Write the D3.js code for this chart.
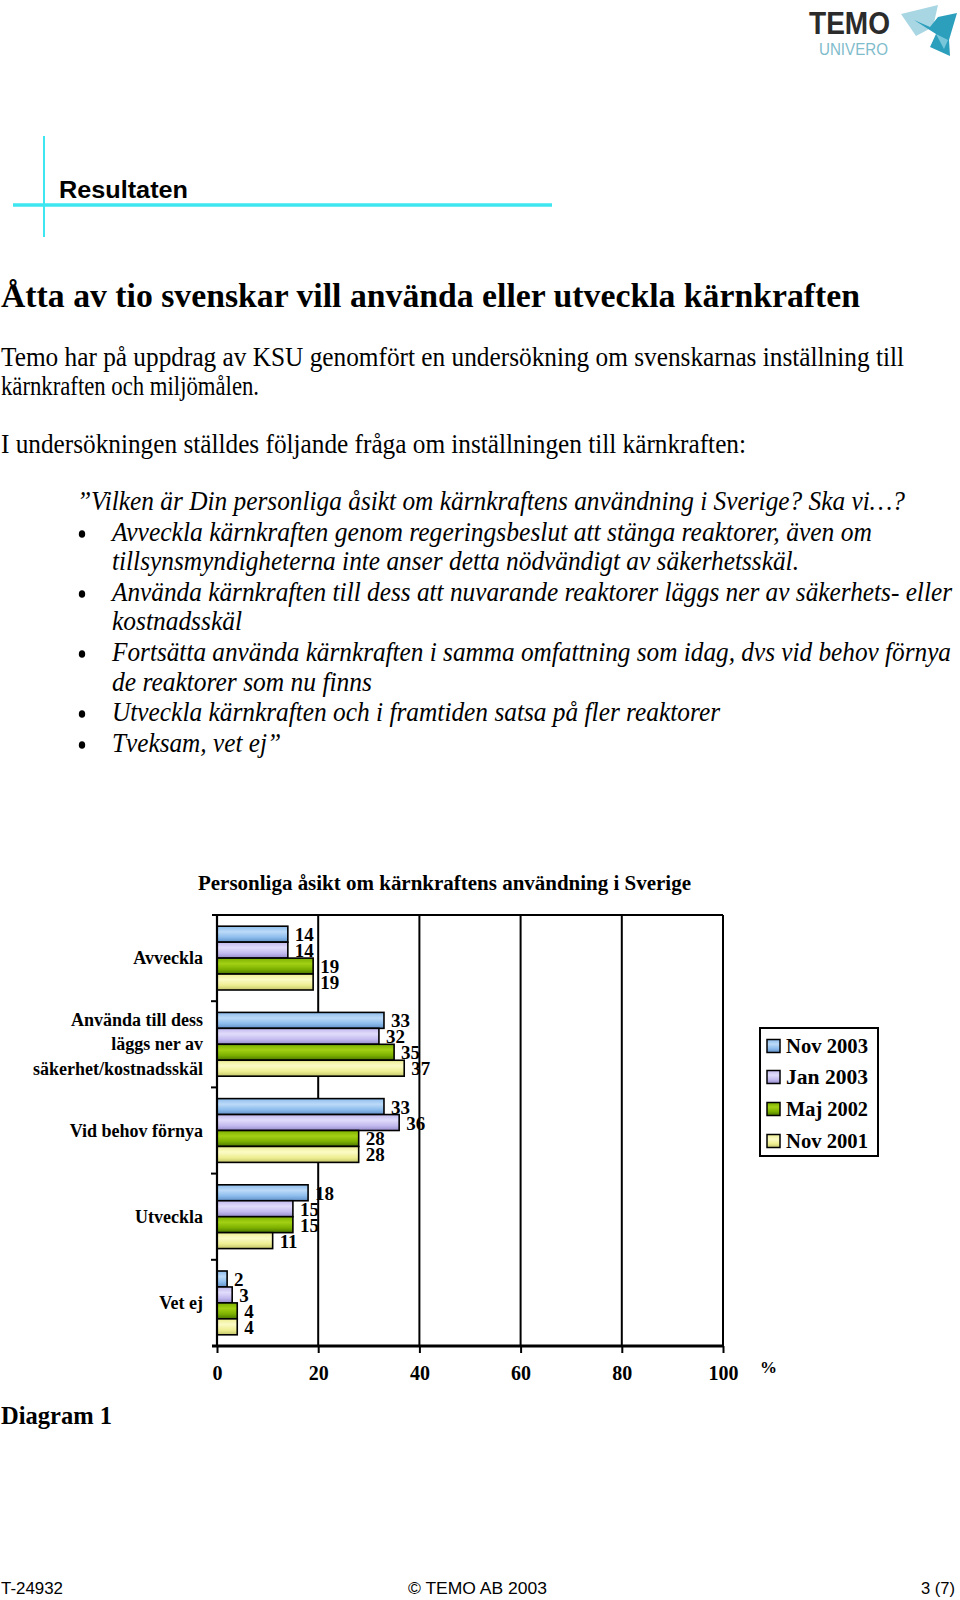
<!DOCTYPE html>
<html><head><meta charset="utf-8">
<script src="https://cdn.jsdelivr.net/npm/d3@7"></script>
<style>body{margin:0;background:#fff}svg{display:block}</style>
</head><body>
<script>
// ---------- data ----------
const categories = ["Avveckla", "Använda till dess läggs ner av säkerhet/kostnadsskäl", "Vid behov förnya", "Utveckla", "Vet ej"];
const categoryLines = [["Avveckla"], ["Använda till dess", "läggs ner av", "säkerhet/kostnadsskäl"], ["Vid behov förnya"], ["Utveckla"], ["Vet ej"]];
const seriesNames = ["Nov 2003", "Jan 2003", "Maj 2002", "Nov 2001"];
const nov2003 = [14, 33, 33, 18, 2];
const jan2003 = [14, 32, 36, 15, 3];
const maj2002 = [19, 35, 28, 15, 4];
const nov2001 = [19, 37, 28, 11, 4];
const xTicks = [0, 20, 40, 60, 80, 100];
const chartTitle = "Personliga åsikt om kärnkraftens användning i Sverige";

const seriesValues = [nov2003, jan2003, maj2002, nov2001];
const palette = [
  {base:"#8cbcec", light:"#bcdaf8", dark:"#5f8fc8"},
  {base:"#c2baee", light:"#e0dcfb", dark:"#958bcc"},
  {base:"#7cb000", light:"#a2d014", dark:"#4a7400"},
  {base:"#eeee92", light:"#fbfbc6", dark:"#c4c46a"}
];

const W = 960, H = 1600;
const svg = d3.select("body").append("svg").attr("width", W).attr("height", H);
svg.append("rect").attr("width", W).attr("height", H).attr("fill", "#fff");

// gradients
const defs = svg.append("defs");
palette.forEach((p, i) => {
  const g = defs.append("linearGradient").attr("id", "g" + i).attr("x1", 0).attr("y1", 0).attr("x2", 0).attr("y2", 1);
  g.append("stop").attr("offset", "0%").attr("stop-color", p.base);
  g.append("stop").attr("offset", "35%").attr("stop-color", p.light);
  g.append("stop").attr("offset", "70%").attr("stop-color", p.base);
  g.append("stop").attr("offset", "100%").attr("stop-color", p.dark);
});

// ---------- helpers ----------
function txt(x, y, s, o) {
  const t = svg.append("text").text(s)
    .attr("font-family", o.family || "'Liberation Serif', 'Times New Roman', serif")
    .attr("font-size", o.size).attr("fill", o.fill || "#000");
  if (o.sy) t.attr("transform", `translate(${x},${y}) scale(1,${o.sy})`);
  else t.attr("x", x).attr("y", y);
  if (o.weight) t.attr("font-weight", o.weight);
  if (o.style) t.attr("font-style", o.style);
  if (o.anchor) t.attr("text-anchor", o.anchor);
  if (o.len) t.attr("textLength", o.len).attr("lengthAdjust", "spacingAndGlyphs");
  return t;
}
const sans = "'Liberation Sans', Arial, sans-serif";

// ---------- header / logo ----------
txt(809, 34, "TEMO", {family: sans, size: 31, weight: "bold", fill: "#2b2b2b", len: 81});
txt(819, 55, "UNIVERO", {family: sans, size: 16, fill: "#7fbccc", len: 69});
svg.append("polygon").attr("points", "901,14 938,5 933,27 916,36").attr("fill", "#a9d6e3");
svg.append("polygon").attr("points", "914,20 930,27 938,17 957,13 949,40 950,56 930,47 936,34").attr("fill", "#2c9fbd");
svg.append("polygon").attr("points", "936,34 948,40 944,49").attr("fill", "#78c6da");

svg.append("line").attr("x1", 44).attr("x2", 44).attr("y1", 136).attr("y2", 237).attr("stroke", "#3ee6f0").attr("stroke-width", 2);
svg.append("line").attr("x1", 13).attr("x2", 552).attr("y1", 205).attr("y2", 205).attr("stroke", "#3ee6f0").attr("stroke-width", 3.5);
txt(59, 198, "Resultaten", {family: sans, size: 23, weight: "bold", len: 129});

// ---------- body text ----------
const SY = 1.08;
txt(1, 307, "Åtta av tio svenskar vill använda eller utveckla kärnkraften", {size: 32, weight: "bold", len: 859, sy: SY});
txt(1, 366, "Temo har på uppdrag av KSU genomfört en undersökning om svenskarnas inställning till", {size: 25, len: 903, sy: SY});
txt(1, 395, "kärnkraften och miljömålen.", {size: 25, len: 258, sy: SY});
txt(1, 453, "I undersökningen ställdes följande fråga om inställningen till kärnkraften:", {size: 25, len: 745, sy: SY});
txt(77, 510, "”Vilken är Din personliga åsikt om kärnkraftens användning i Sverige? Ska vi…?", {size: 25, style: "italic", len: 828, sy: SY});
const bulletLines = [
  [541, "Avveckla kärnkraften genom regeringsbeslut att stänga reaktorer, även om", 760, true],
  [570, "tillsynsmyndigheterna inte anser detta nödvändigt av säkerhetsskäl.", 687, false],
  [601, "Använda kärnkraften till dess att nuvarande reaktorer läggs ner av säkerhets- eller", 840, true],
  [630, "kostnadsskäl", 130, false],
  [661, "Fortsätta använda kärnkraften i samma omfattning som idag, dvs vid behov förnya", 839, true],
  [691, "de reaktorer som nu finns", 260, false],
  [721, "Utveckla kärnkraften och i framtiden satsa på fler reaktorer", 608, true],
  [752, "Tveksam, vet ej”", 169, true]
];
bulletLines.forEach(([y, s, len, dot]) => {
  txt(112, y, s, {size: 25, style: "italic", len: len, sy: SY});
  if (dot) svg.append("ellipse").attr("cx", 82).attr("cy", y - 7).attr("rx", 3.2).attr("ry", 3.8).attr("fill", "#000");
});

// ---------- chart ----------
const L = 217, R = 723, T = 915, B = 1346;
const x = d3.scaleLinear().domain([0, 100]).range([L, R]);
const y = d3.scaleBand().domain(categories).range([T, B]).paddingInner(0.26).paddingOuter(0.13);
const ySub = d3.scaleBand().domain(seriesNames).range([0, y.bandwidth()]);

txt((198 + 691) / 2, 890, chartTitle, {size: 20, weight: "bold", anchor: "middle", len: 493});

// gridlines
svg.append("g").selectAll("line").data(xTicks.slice(1)).join("line")
  .attr("x1", d => x(d)).attr("x2", d => x(d)).attr("y1", T).attr("y2", B)
  .attr("stroke", "#000").attr("stroke-width", 2);
svg.append("line").attr("x1", L - 5).attr("x2", R).attr("y1", T).attr("y2", T).attr("stroke", "#000").attr("stroke-width", 2);

// bars
const groups = svg.append("g").selectAll("g").data(categories).join("g")
  .attr("transform", d => `translate(0,${y(d)})`);
groups.each(function (cat, ci) {
  const g = d3.select(this);
  seriesNames.forEach((s, si) => {
    const v = seriesValues[si][ci];
    g.append("rect").attr("x", x(0)).attr("y", ySub(s)).attr("width", x(v) - x(0)).attr("height", ySub.bandwidth())
      .attr("fill", `url(#g${si})`).attr("stroke", "#000").attr("stroke-width", 1.6);
    g.append("text").attr("x", x(v) + 7).attr("y", ySub(s) + ySub.bandwidth() / 2 + 7)
      .attr("font-family", "'Liberation Serif', 'Times New Roman', serif").attr("font-size", 19)
      .attr("font-weight", "bold").text(v);
  });
});

// left axis (ticks at category boundaries)
const bounds = categories.map(c => y(c) - y.step() * y.paddingInner() / 2).concat([B]);
svg.append("line").attr("x1", L).attr("x2", L).attr("y1", T).attr("y2", B).attr("stroke", "#000").attr("stroke-width", 2.2);
svg.append("g").selectAll("line").data(bounds.slice(1, -1)).join("line")
  .attr("x1", L - 6).attr("x2", L).attr("y1", d => d).attr("y2", d => d).attr("stroke", "#000").attr("stroke-width", 2);

// category labels
categoryLines.forEach((lines, ci) => {
  const cy = y(categories[ci]) + y.bandwidth() / 2;
  lines.forEach((ln, li) => {
    const yy = cy + (li - (lines.length - 1) / 2) * 24.5 + 6;
    txt(203, yy, ln, {size: 18, weight: "bold", anchor: "end"});
  });
});

// bottom axis
const xAxis = d3.axisBottom(x).tickValues(xTicks).tickSize(7).tickPadding(13);
const ax = svg.append("g").attr("transform", `translate(0,${B})`).call(xAxis);
ax.select(".domain").attr("d", `M${L - 5},0H${R}`).attr("stroke", "#000").attr("stroke-width", 3);
ax.selectAll(".tick line").attr("stroke", "#000").attr("stroke-width", 2);
ax.selectAll(".tick text").attr("font-family", "'Liberation Serif', 'Times New Roman', serif")
  .attr("font-size", 20).attr("font-weight", "bold").attr("fill", "#000");
txt(760, 1373, "%", {size: 17, weight: "bold"});

// legend
svg.append("rect").attr("x", 760).attr("y", 1028).attr("width", 118).attr("height", 128)
  .attr("fill", "#fff").attr("stroke", "#000").attr("stroke-width", 2);
const legY = [1046, 1077, 1109, 1141];
seriesNames.forEach((s, i) => {
  svg.append("rect").attr("x", 767).attr("y", legY[i] - 6.5).attr("width", 13).attr("height", 13)
    .attr("fill", `url(#g${i})`).attr("stroke", "#000").attr("stroke-width", 1.5);
  txt(786, legY[i] + 7, s, {size: 20, weight: "bold", len: 82});
});

// captions / footer
txt(1, 1424, "Diagram 1", {size: 25, weight: "bold", len: 111});
txt(1, 1594, "T-24932", {family: sans, size: 17, len: 62});
txt(408, 1594, "©  TEMO AB 2003", {family: sans, size: 17, len: 139});
txt(955, 1594, "3 (7)", {family: sans, size: 17, anchor: "end", len: 34});
</script>
</body></html>
